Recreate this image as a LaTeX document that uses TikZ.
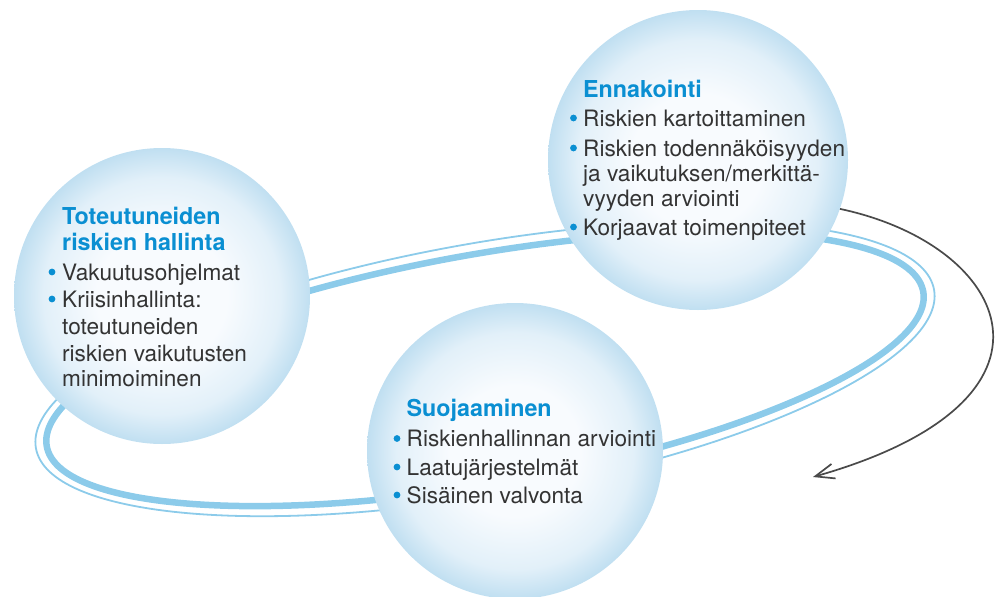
\documentclass[tikz,border=0pt]{standalone}
\usepackage{fontspec}
\setmainfont{TeX Gyre Heros}
\usetikzlibrary{arrows.meta}
\definecolor{ringblue}{HTML}{8CCBEA}
\definecolor{titleblue}{HTML}{0A8FD2}
\definecolor{bodygray}{HTML}{333333}
\definecolor{bubbleEdge}{HTML}{C0DFF1}
\definecolor{bubbleMid}{HTML}{E2F0F9}
\definecolor{bubbleCore}{HTML}{F8FBFE}
\definecolor{arrowgray}{HTML}{4A4A4A}
\pgfdeclareradialshading{bubble}{\pgfpoint{0bp}{0bp}}{color(0bp)=(bubbleCore); color(11bp)=(bubbleCore); color(20bp)=(bubbleMid); color(25bp)=(bubbleEdge); color(50bp)=(bubbleEdge)}
\tikzset{
  bub/.style={circle, inner sep=0pt, shade, shading=bubble},
  ringthick/.style={draw=ringblue, line width=6.5pt},
  ringthin/.style={draw=ringblue, line width=1.8pt},
  ttl/.style={anchor=base west, inner sep=0pt, text=titleblue, font=\fontsize{23.3pt}{26pt}\selectfont\bfseries},
  txt/.style={anchor=base west, inner sep=0pt, text=bodygray, font=\fontsize{22.6pt}{26pt}\selectfont},
  dot/.style={circle, fill=titleblue, inner sep=0pt, minimum size=6.8pt},
  cyclearrow/.style={draw=arrowgray, line width=1.7pt, -{Straight Barb[length=19pt,width=15pt]}}
}
\begin{document}
\begin{tikzpicture}[x=1pt, y=-1pt]
\useasboundingbox (0,0) rectangle (996,597);
\clip (0,0) rectangle (996,597);
% ring
\begin{scope}[rotate around={10:(485,369)}]
  \draw[ringthick] (485,369) ellipse [x radius=445, y radius=115];
  \draw[ringthin] (485,369) ellipse [x radius=456, y radius=126];
\end{scope}
% bubbles
\node[bub, minimum size=300pt] (ennakointi) at (698,160) {};
\node[bub, minimum size=296pt] (toteutuneet) at (162,296) {};
\node[bub, minimum size=296pt] (suojaaminen) at (515,451) {};
% arrow
\coordinate (arrowend) at (813,477);
\draw[cyclearrow] (ennakointi.-19) .. controls (1010,245) and (1085,400) .. (arrowend);
% Ennakointi text
\node[ttl] (e0) at (583,97) {Ennakointi};
\node[dot] (eb1) at (573.5,118) {};
\node[txt] (e1) at (583,126) {Riskien kartoittaminen};
\node[dot] (eb2) at (573.5,148) {};
\node[txt] (e2) at (583,156) {Riskien todennäköisyyden};
\node[txt] (e3) at (583,181.5) {ja vaikutuksen/merkittä-};
\node[txt] (e4) at (583,206.5) {vyyden arviointi};
\node[dot] (eb3) at (573.5,227) {};
\node[txt] (e5) at (583,235) {Korjaavat toimenpiteet};
% Toteutuneiden text
\node[ttl] (t0) at (62,224) {Toteutuneiden};
\node[ttl] (t1) at (62,250.5) {riskien hallinta};
\node[dot] (tb1) at (52,272) {};
\node[txt] (t2) at (62,280) {Vakuutusohjelmat};
\node[dot] (tb2) at (52,299) {};
\node[txt] (t3) at (62,307) {Kriisinhallinta:};
\node[txt] (t4) at (62,334.5) {toteutuneiden};
\node[txt] (t5) at (62,361) {riskien vaikutusten};
\node[txt] (t6) at (62,386.5) {minimoiminen};
% Suojaaminen text
\node[ttl] (s0) at (406.5,416.5) {Suojaaminen};
\node[dot] (sb1) at (397,438.5) {};
\node[txt] (s1) at (406.5,446.5) {Riskienhallinnan arviointi};
\node[dot] (sb2) at (397,467) {};
\node[txt] (s2) at (406.5,475) {Laatujärjestelmät};
\node[dot] (sb3) at (397,495) {};
\node[txt] (s3) at (406.5,503) {Sisäinen valvonta};
\end{tikzpicture}
\end{document}
